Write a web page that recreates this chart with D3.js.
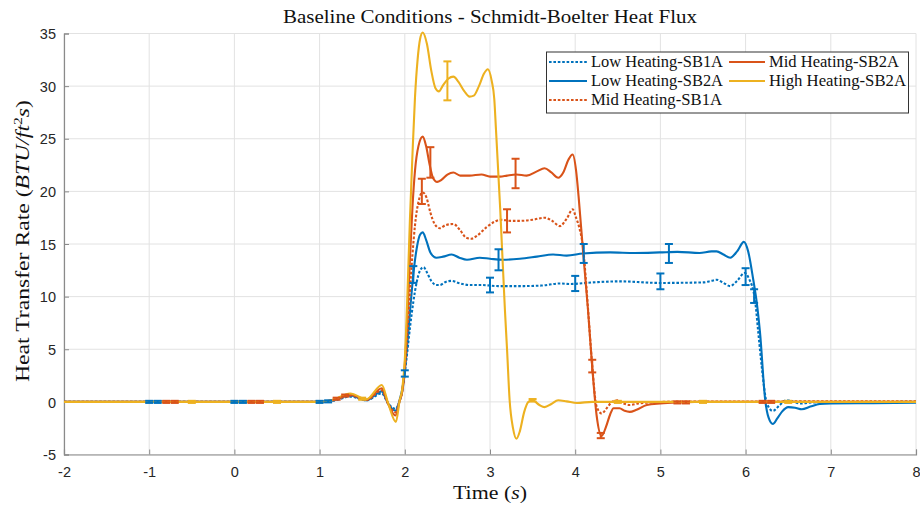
<!DOCTYPE html>
<html><head><meta charset="utf-8">
<script src="https://cdn.jsdelivr.net/npm/d3@7"></script>
<style>body{margin:0;background:#fff}svg{display:block}</style>
</head><body>
<svg id="c" width="920" height="508"></svg>
<script>
// ---------- DATA ----------
const xTicks = [-2,-1,0,1,2,3,4,5,6,7,8];
const yTicks = [-5,0,5,10,15,20,25,30,35];
const seriesNames = ["Low Heating-SB1A","Low Heating-SB2A","Mid Heating-SB1A","Mid Heating-SB2A","High Heating-SB2A"];
const seriesColors = ["#0072BD","#0072BD","#D95319","#D95319","#EDB120"];
const seriesDotted = [true,false,true,false,false];

const lowSB1A_t = [-2,-1,0,1.0,1.16,1.36,1.55,1.73,1.80,1.89,1.94,1.97,2.0,2.03,2.06,2.1,2.14,2.18,2.22,2.26,2.31,2.37,2.41,2.48,2.55,2.63,2.76,2.9,3.1,3.35,3.6,3.82,3.94,4.2,4.52,5.0,5.5,5.60,5.66,5.74,5.82,5.90,5.99,6.04,6.11,6.15,6.19,6.25,6.32,6.40,6.48,6.56,6.64,6.8,8];
const lowSB1A_v = [0,0,0,0,0.1,0.5,0.15,0.8,-0.1,-0.65,0.1,1.0,2.7,4.8,7.0,9.5,11.4,12.5,12.8,12.3,11.5,11.1,11.1,11.4,11.5,11.3,11.1,11.1,11.0,11.0,11.05,11.25,11.2,11.35,11.45,11.3,11.35,11.5,11.6,11.3,11.0,11.5,12.25,11.7,9.7,6.5,3.3,-0.15,-0.86,-0.3,0.15,0.0,-0.15,-0.05,0];

const lowSB2A_t = [-2,-1,0,1.0,1.16,1.36,1.55,1.73,1.80,1.89,1.94,1.97,2.0,2.03,2.06,2.1,2.14,2.18,2.21,2.25,2.30,2.37,2.45,2.55,2.64,2.73,2.88,3.0,3.15,3.35,3.55,3.74,3.9,4.09,4.41,4.7,4.99,5.2,5.46,5.60,5.66,5.74,5.82,5.90,5.98,6.03,6.09,6.13,6.17,6.23,6.27,6.32,6.37,6.43,6.50,6.58,6.66,6.76,6.87,7.0,7.5,8];
const lowSB2A_v = [0,0,0,0,0.15,0.6,0.15,1.0,-0.1,-0.85,0.2,1.2,3.0,5.5,8.5,12.1,14.6,15.9,16.1,15.4,14.2,13.7,13.8,14.0,13.7,13.5,13.7,13.6,13.5,13.6,13.8,14.0,13.9,14.1,14.2,14.15,14.2,14.25,14.15,14.3,14.3,14.0,13.7,14.3,15.2,14.3,11.6,9.5,6.5,0.2,-1.5,-2.1,-1.6,-0.9,-0.5,-0.55,-0.7,-0.45,-0.2,-0.15,-0.12,-0.08];

const midSB1A_t = [-2,-1,0,1.0,1.16,1.36,1.55,1.73,1.80,1.89,1.94,1.97,2.0,2.03,2.06,2.09,2.12,2.16,2.21,2.255,2.30,2.35,2.41,2.48,2.57,2.65,2.72,2.78,2.85,2.96,3.05,3.12,3.25,3.35,3.5,3.64,3.73,3.82,3.90,3.97,4.01,4.05,4.09,4.15,4.2,4.25,4.31,4.37,4.44,4.50,4.57,4.64,4.74,4.9,5.2,8];
const midSB1A_v = [0,0,0,0,0.15,0.6,0.2,1.1,-0.1,-1.0,0.1,1.0,3.0,6.5,10.5,14.0,16.8,19.0,19.9,19.4,18.0,16.9,16.5,16.8,16.9,16.3,15.6,15.5,15.8,16.6,17.1,17.3,17.2,17.2,17.3,17.5,17.2,16.7,17.4,18.3,17.5,16.5,14.8,8.9,3.4,-0.4,-1.1,-0.6,0.05,0.15,-0.15,-0.3,-0.15,-0.05,0.03,0.05];

const midSB2A_t = [-2,-1,0,1.0,1.16,1.36,1.55,1.73,1.80,1.89,1.94,1.97,2.0,2.03,2.06,2.09,2.12,2.16,2.21,2.25,2.29,2.33,2.38,2.43,2.50,2.57,2.65,2.76,2.9,3.0,3.12,3.2,3.31,3.43,3.55,3.64,3.72,3.80,3.86,3.92,3.97,4.01,4.04,4.09,4.15,4.20,4.25,4.31,4.36,4.41,4.45,4.52,4.58,4.64,4.72,4.84,5.0,5.2,5.4,8];
const midSB2A_v = [0,0,0,0,0.2,0.7,0.2,1.3,-0.1,-1.3,0.1,1.0,3.5,8.0,13.5,18.5,22.0,24.3,25.2,24.3,22.6,21.3,20.9,21.1,21.6,21.8,21.5,21.5,21.6,21.4,21.4,21.5,21.6,21.5,21.9,22.2,21.8,21.3,21.8,23.0,23.5,22.0,19.5,14.5,8.75,3.3,-1.2,-3.25,-2.4,-1.2,-0.6,-0.6,-0.85,-0.95,-0.75,-0.3,-0.15,-0.05,0,0];

const highSB2A_t = [-2,-1,0,1.0,1.16,1.36,1.55,1.73,1.805,1.895,1.94,1.97,2.0,2.03,2.06,2.09,2.12,2.15,2.18,2.21,2.26,2.31,2.36,2.40,2.45,2.51,2.57,2.63,2.70,2.76,2.81,2.87,2.93,2.975,3.02,3.05,3.07,3.12,3.175,3.20,3.23,3.27,3.31,3.35,3.40,3.45,3.5,3.58,3.64,3.72,3.80,3.9,4.02,4.2,8];
const highSB2A_v = [0,0,0,0,0.2,0.8,0.25,1.6,-0.15,-1.9,0.15,1.2,4.0,10.0,17.3,23.5,29.0,32.5,34.5,35.1,34.0,31.5,29.8,29.5,30.1,30.7,30.9,30.4,29.5,29.0,29.1,30.0,31.2,31.6,30.5,28.8,25.9,18.3,8.75,5.0,0.2,-2.5,-3.5,-2.8,-1.0,0.0,0.15,-0.3,-0.5,-0.2,0.15,0.05,-0.1,0,0];

// error bars (time, value, half-length)
const lowSB1A_eT = [-1,0,1,2,3,4,5,6];
const lowSB1A_eV = [0,0,0,2.7,11.1,11.25,11.45,11.9];
const lowSB1A_eE = [0.1,0.1,0.1,0.3,0.7,0.72,0.75,0.8];
const lowSB2A_eT = [-0.9,0.1,1.1,2.1,3.1,4.1,5.1,6.1];
const lowSB2A_eV = [0,0,0.05,12.1,13.5,14.1,14.1,10.05];
const lowSB2A_eE = [0.1,0.1,0.1,0.8,1.0,0.9,0.9,0.65];
const midSB1A_eT = [-0.8,0.2,1.2,2.2,3.2,4.2,5.2,6.2];
const midSB1A_eV = [0,0,0.3,20.0,17.2,3.4,-0.05,0];
const midSB1A_eE = [0.1,0.1,0.1,1.2,1.1,0.6,0.1,0.1];
const midSB2A_eT = [-0.7,0.3,1.3,2.3,3.3,4.3,5.3,6.3];
const midSB2A_eV = [0,0,0.6,22.75,21.7,-3.2,-0.05,0];
const midSB2A_eE = [0.1,0.1,0.1,1.45,1.4,0.25,0.1,0.1];
const highSB2A_eT = [-0.5,0.5,1.5,2.5,3.5,4.5,5.5,6.5];
const highSB2A_eV = [0,0,0.3,30.5,0.15,0,0,0];
const highSB2A_eE = [0.1,0.1,0.1,1.85,0.12,0.1,0.1,0.1];

const titleText = "Baseline Conditions - Schmidt-Boelter Heat Flux";

// ---------- BUILD ----------
const lines = [[lowSB1A_t,lowSB1A_v],[lowSB2A_t,lowSB2A_v],[midSB1A_t,midSB1A_v],[midSB2A_t,midSB2A_v],[highSB2A_t,highSB2A_v]];
const errs = [[lowSB1A_eT,lowSB1A_eV,lowSB1A_eE],[lowSB2A_eT,lowSB2A_eV,lowSB2A_eE],[midSB1A_eT,midSB1A_eV,midSB1A_eE],[midSB2A_eT,midSB2A_eV,midSB2A_eE],[highSB2A_eT,highSB2A_eV,highSB2A_eE]];

const svg = d3.select("#c");
const L=64, R=916, T=33.5, B=454.5;
const x = d3.scaleLinear().domain([-2,8]).range([L,R]);
const y = d3.scaleLinear().domain([-5,35]).range([B,T]);
const serif = "'Liberation Serif','Times New Roman',serif";
const sans = "'Liberation Sans',Arial,sans-serif";

// grid
const g = svg.append("g");
g.selectAll("line.gx").data(xTicks).enter().append("line")
  .attr("x1",d=>x(d)).attr("x2",d=>x(d)).attr("y1",T).attr("y2",B)
  .attr("stroke","#e2e2e2").attr("stroke-width",1);
g.selectAll("line.gy").data(yTicks).enter().append("line")
  .attr("x1",L).attr("x2",R).attr("y1",d=>y(d)).attr("y2",d=>y(d))
  .attr("stroke","#e2e2e2").attr("stroke-width",1);

// axes
const fmt = d => String(d);
const xAxis = d3.axisBottom(x).tickValues(xTicks).tickSize(-5).tickPadding(12).tickFormat(fmt);
const yAxis = d3.axisLeft(y).tickValues(yTicks).tickSize(-5).tickPadding(8).tickFormat(fmt);
const ax = svg.append("g").attr("transform",`translate(0,${B})`).call(xAxis);
const ay = svg.append("g").attr("transform",`translate(${L},0)`).call(yAxis);
[ax,ay].forEach(a=>{
  a.select(".domain").attr("stroke","#8a8a8a").attr("stroke-width",1.2);
  a.selectAll(".tick line").attr("stroke","#8a8a8a").attr("stroke-width",1);
  a.selectAll(".tick text").attr("fill","#262626").attr("font-family",sans).attr("font-size",14.5);
});
ax.selectAll(".tick text").attr("dy","0.71em");
ay.selectAll(".tick text").attr("dy","0.36em");

// lines
const lineGen = d3.line().x(d=>x(d[0])).y(d=>y(d[1])).curve(d3.curveMonotoneX);
const plot = svg.append("g");
lines.forEach((s,i)=>{
  const pts = s[0].map((t,k)=>[t,s[1][k]]);
  plot.append("path").datum(pts).attr("d",lineGen)
    .attr("fill","none").attr("stroke",seriesColors[i]).attr("stroke-width",2.1)
    .attr("stroke-dasharray",seriesDotted[i]?"2.6,1.8":null)
    .attr("stroke-linejoin","round");
});
// error bars on top
const ebLayer = svg.append("g");
errs.forEach((e,i)=>{
  const eb = ebLayer.append("g").attr("stroke",seriesColors[i]).attr("stroke-width",2).attr("fill","none");
  e[0].forEach((t,k)=>{
    const cx = x(t), y1 = y(e[1][k]+e[2][k]), y2 = y(e[1][k]-e[2][k]);
    eb.append("line").attr("x1",cx).attr("x2",cx).attr("y1",y1).attr("y2",y2);
    eb.append("line").attr("x1",cx-4).attr("x2",cx+4).attr("y1",y1).attr("y2",y1);
    eb.append("line").attr("x1",cx-4).attr("x2",cx+4).attr("y1",y2).attr("y2",y2);
  });
});

// title
svg.append("text").attr("x",490).attr("y",23).attr("text-anchor","middle")
  .attr("font-family",serif).attr("font-size",18).attr("fill","#111")
  .attr("textLength",414).attr("lengthAdjust","spacingAndGlyphs").text(titleText);

// x label
const xl = svg.append("text").attr("x",490).attr("y",499).attr("text-anchor","middle")
  .attr("font-family",serif).attr("font-size",18.5).attr("fill","#111")
  .attr("textLength",74).attr("lengthAdjust","spacingAndGlyphs");
xl.append("tspan").text("Time (");
xl.append("tspan").attr("font-style","italic").text("s");
xl.append("tspan").text(")");

// y label
const yl = svg.append("text").attr("transform","translate(29,241) rotate(-90)").attr("text-anchor","middle")
  .attr("font-family",serif).attr("font-size",18).attr("fill","#111")
  .attr("textLength",282).attr("lengthAdjust","spacingAndGlyphs");
yl.append("tspan").text("Heat Transfer Rate (");
yl.append("tspan").attr("font-style","italic").text("BTU/ft");
yl.append("tspan").attr("font-size",12).attr("dy",-7).text("2");
yl.append("tspan").attr("font-style","italic").attr("dy",7).text("s");
yl.append("tspan").text(")");

// legend
const lg = svg.append("g");
lg.append("rect").attr("x",546.5).attr("y",52).attr("width",362).attr("height",61)
  .attr("fill","#fff").attr("stroke","#333").attr("stroke-width",1);
const legPos = [[549,62],[549,81],[549,100],[729,62],[729,81]];
const legW = [132,132,131,130,137];
seriesNames.forEach((n,i)=>{
  const [lx,ly] = legPos[i];
  const lw = i<3?38:36;
  lg.append("line").attr("x1",lx).attr("x2",lx+lw).attr("y1",ly).attr("y2",ly)
    .attr("stroke",seriesColors[i]).attr("stroke-width",2.1)
    .attr("stroke-dasharray",seriesDotted[i]?"2.6,1.8":null);
  lg.append("text").attr("x",lx+lw+4).attr("y",ly+5).attr("font-family",serif)
    .attr("font-size",16).attr("fill","#111")
    .attr("textLength",legW[i]).attr("lengthAdjust","spacingAndGlyphs").text(n);
});
</script>
</body></html>
